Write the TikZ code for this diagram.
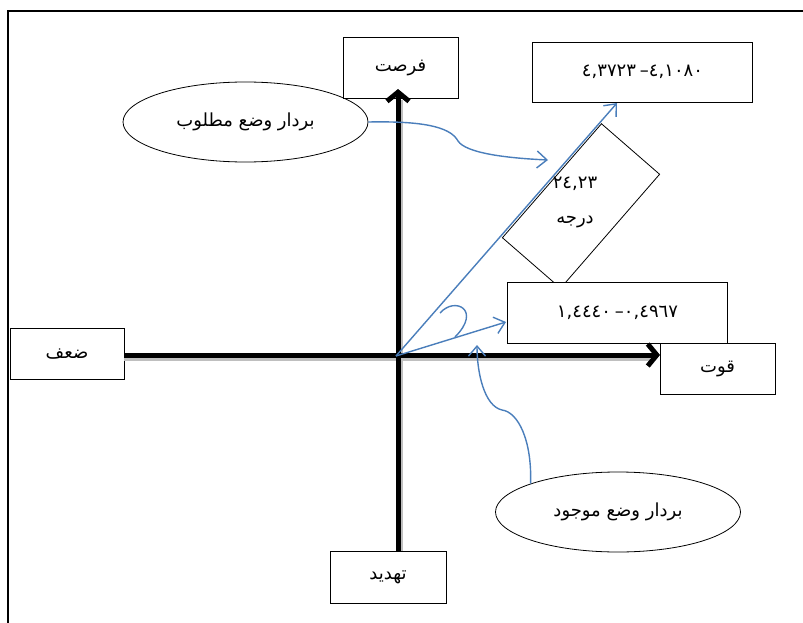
\documentclass[tikz,border=0pt]{standalone}
\usepackage{fontspec}
\usetikzlibrary{arrows.meta,shapes.geometric}
\newfontfamily\arabicfont[Script=Arabic]{DejaVu Sans}
\TeXXeTstate=1
\definecolor{vblue}{RGB}{74,126,187}
\newcommand{\numpair}[2]{\hbox{#1}\hspace{4pt}\hbox{–}\hbox{#2}}
\begin{document}
\begin{tikzpicture}[x=1pt,y=-1pt,
  box/.style={draw=black, line width=0.8pt, fill=white, inner sep=0pt,
    font=\fontsize{18}{20}\selectfont\arabicfont},
  oval/.style={ellipse, draw=black, line width=0.8pt, fill=white, inner sep=0pt,
    minimum width=245pt, minimum height=80pt, font=\fontsize{18}{20}\selectfont\arabicfont},
  lbl/.style={inner sep=0pt, font=\fontsize{18}{20}\selectfont\arabicfont},
  axisline/.style={line width=5pt, -{Straight Barb[length=9pt,width=22pt]}},
  axisshadow/.style={line width=4pt, black!25},
  vec/.style={vblue, line width=1.4pt, -{Straight Barb[length=10pt,width=17pt]}},
  bluecurve/.style={vblue, line width=1.4pt},
  frame/.style={line width=2pt}]
\useasboundingbox (0,0) rectangle (803,623);

% frame
\coordinate (fbl) at (8,623);
\coordinate (ftl) at (8,11);
\coordinate (ftr) at (803,11);
\draw[frame] (fbl) -- (ftl) -- (ftr);

% ellipses
\node[oval] (e1) at (245.5,122) {\beginR بردار وضع مطلوب\endR};
\node[oval] (e2) at (618,512) {\beginR بردار وضع موجود\endR};

% boxes
\node[box, minimum width=115pt, minimum height=61pt] (frs) at (400.5,67.5) {\beginR فرصت\endR};
\node[box, minimum width=220pt, minimum height=60pt] (tr) at (642.5,72) {\numpair{٤,٣٧٢٣}{٤,١٠٨٠}};
\node[box, minimum width=115pt, minimum height=51pt] (qvt) at (717.5,369) {\beginR قوت\endR};
\node[box, minimum width=114pt, minimum height=51pt] (zf) at (67,354) {\beginR ضعف\endR};
\node[box, minimum width=116pt, minimum height=52pt] (thd) at (388,577) {\beginR تهدید\endR};

% rotated angle box
\node[draw=black, line width=0.8pt, fill=white, rectangle, rotate=49,
  minimum width=151pt, minimum height=77pt, inner sep=0pt] (ang) at (581,206) {};
\node[lbl] (angv) at (575,184) {٢٤,٢٣};
\node[lbl] (angt) at (575,222) {\beginR درجه\endR};

% lower value box (covers the bottom corner of the rotated box)
\node[box, minimum width=220pt, minimum height=61pt] (low) at (617.5,312.5) {\numpair{١,٤٤٤٠}{٠,٤٩٦٧}};

% axes
\coordinate (vtop) at (398,89);
\coordinate (hend) at (660,355);
\coordinate (hstart) at (124,355);
\coordinate (vbot) at (398,551);
\draw[axisshadow] (401,551) -- (401,100);
\draw[axisshadow] (124,358.5) -- (650,358.5);
\draw[axisline] (vbot) -- (vtop);
\draw[axisline] (hstart) -- (hend);

% vectors
\coordinate (v0) at (396,356);
\coordinate (v1) at (617,103);
\coordinate (v2) at (506,322);
\draw[vec] (v0) -- (v1);
\draw[vec] (v0) -- (v2);

% angle arc
\coordinate (a1) at (440,313);
\coordinate (a2) at (455,337);
\draw[bluecurve] (a1) .. controls (455,296) and (482,310) .. (a2);

% curved pointers
\coordinate (c1) at (548,160);
\draw[vec] (e1.east) .. controls (420,121) and (450,126) .. (458,141)
  .. controls (466,153) and (505,158) .. (c1);
\coordinate (c2) at (477,345);
\draw[vec] (e2.162) .. controls (532,440) and (518,412) .. (502,410)
  .. controls (484,406) and (477,372) .. (c2);
\end{tikzpicture}
\end{document}
